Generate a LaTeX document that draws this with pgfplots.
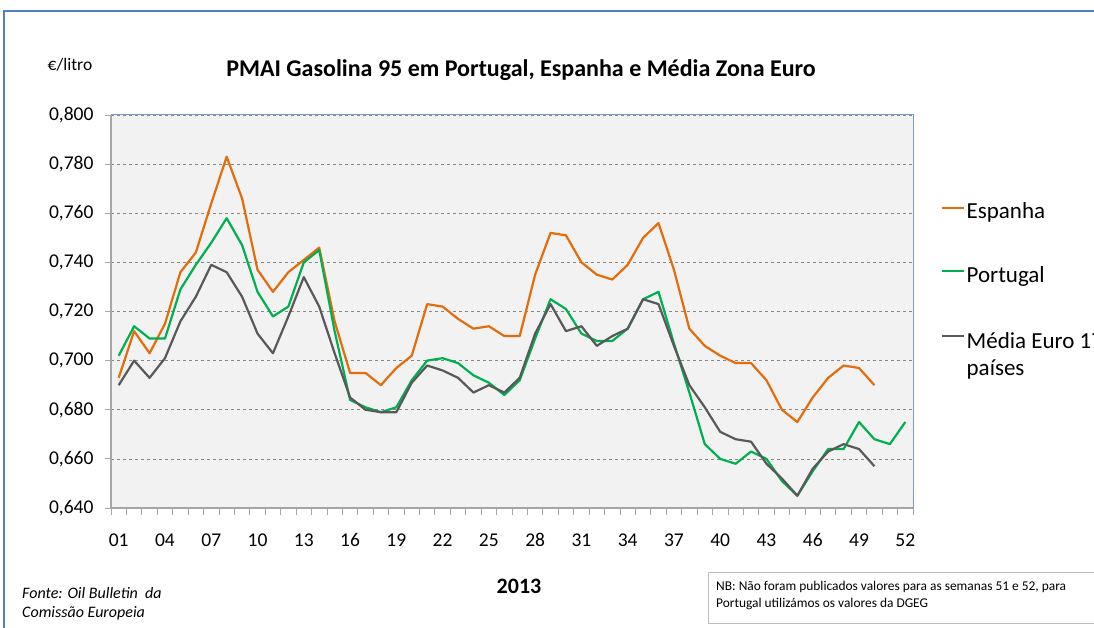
\documentclass[border=0pt]{standalone}
\usepackage{fontspec}
\setmainfont{Carlito}
\usepackage{pgfplots}
\pgfplotsset{compat=1.18}
\definecolor{esp}{RGB}{228,108,10}
\definecolor{por}{RGB}{0,176,80}
\definecolor{eur}{RGB}{89,89,89}
\definecolor{bgc}{RGB}{242,242,242}
\definecolor{frameblue}{RGB}{79,129,189}
\definecolor{topblue}{RGB}{120,155,210}
\definecolor{axgray}{RGB}{166,166,166}
\definecolor{gridgray}{RGB}{134,134,134}
\begin{document}
\begin{tikzpicture}[x=1pt,y=1pt]
\useasboundingbox (0,0) rectangle (1094,628);
\draw[frameblue, line width=1.5pt] (4,-5) -- (4,617) -- (1100,617);
\node[font=\fontsize{24}{24}\selectfont\bfseries] at (521,558) {PMAI Gasolina 95 em Portugal, Espanha e Média Zona Euro};
\node[font=\fontsize{17.5}{17.5}\selectfont] at (70,563) {€/litro};
\begin{axis}[
  at={(111pt,120pt)}, anchor=south west,
  width=802pt, height=393pt, scale only axis,
  xmin=0.5, xmax=52.5, ymin=0.64, ymax=0.80,
  axis background/.style={fill=bgc},
  axis line style={draw=none},
  xtick={1,4,...,52},
  xticklabels={01,04,07,10,13,16,19,22,25,28,31,34,37,40,43,46,49,52},
  minor xtick={0.5,1.5,...,52.5},
  ytick={0.64,0.66,...,0.801},
  tick pos=left, tick align=outside,
  major x tick style={draw=none},
  minor x tick style={axgray, line width=0.8pt},
  minor tick length=7pt,
  major tick length=6pt,
  y tick style={axgray, line width=0.8pt},
  ymajorgrids, grid style={gridgray, dashed, line width=0.6pt},
  x tick label style={font=\fontsize{19.5}{19.5}\selectfont, anchor=base, yshift=-33pt},
  y tick label style={font=\fontsize{19.5}{19.5}\selectfont, xshift=-8pt},
  yticklabel style={/pgf/number format/.cd, fixed, fixed zerofill, precision=3, use comma, assume math mode=true},
  legend style={draw=none, fill=none, at={(1.034,0.782)}, anchor=north west,
    font=\fontsize{23}{27}\selectfont, row sep=42pt, inner sep=0pt},
  legend cell align=left,
  legend image code/.code={\draw[#1] (0pt,0.8ex) -- (22pt,0.8ex);},
  every axis plot/.append style={line width=2.2pt, line join=round},
  clip=false,
]
\addplot[esp] coordinates {
(1,0.693)(2,0.712)(3,0.703)(4,0.715)(5,0.736)(6,0.744)(7,0.764)(8,0.783)(9,0.766)(10,0.737)
(11,0.728)(12,0.736)(13,0.741)(14,0.746)(15,0.716)(16,0.695)(17,0.695)(18,0.690)(19,0.697)(20,0.702)
(21,0.723)(22,0.722)(23,0.717)(24,0.713)(25,0.714)(26,0.710)(27,0.710)(28,0.735)(29,0.752)(30,0.751)
(31,0.740)(32,0.735)(33,0.733)(34,0.739)(35,0.750)(36,0.756)(37,0.737)(38,0.713)(39,0.706)(40,0.702)
(41,0.699)(42,0.699)(43,0.692)(44,0.680)(45,0.675)(46,0.685)(47,0.693)(48,0.698)(49,0.697)(50,0.690)};
\addlegendentry{Espanha}
\addplot[por] coordinates {
(1,0.702)(2,0.714)(3,0.709)(4,0.709)(5,0.729)(6,0.739)(7,0.748)(8,0.758)(9,0.747)(10,0.728)
(11,0.718)(12,0.722)(13,0.740)(14,0.745)(15,0.712)(16,0.684)(17,0.681)(18,0.679)(19,0.681)(20,0.692)
(21,0.700)(22,0.701)(23,0.699)(24,0.694)(25,0.691)(26,0.686)(27,0.692)(28,0.709)(29,0.725)(30,0.721)
(31,0.711)(32,0.708)(33,0.708)(34,0.713)(35,0.725)(36,0.728)(37,0.707)(38,0.687)(39,0.666)(40,0.660)
(41,0.658)(42,0.663)(43,0.660)(44,0.651)(45,0.645)(46,0.655)(47,0.664)(48,0.664)(49,0.675)(50,0.668)
(51,0.666)(52,0.675)};
\addlegendentry{Portugal}
\addplot[eur] coordinates {
(1,0.690)(2,0.700)(3,0.693)(4,0.701)(5,0.716)(6,0.726)(7,0.739)(8,0.736)(9,0.726)(10,0.711)
(11,0.703)(12,0.718)(13,0.734)(14,0.722)(15,0.703)(16,0.685)(17,0.680)(18,0.679)(19,0.679)(20,0.691)
(21,0.698)(22,0.696)(23,0.693)(24,0.687)(25,0.690)(26,0.687)(27,0.693)(28,0.711)(29,0.723)(30,0.712)
(31,0.714)(32,0.706)(33,0.710)(34,0.713)(35,0.725)(36,0.723)(37,0.706)(38,0.690)(39,0.681)(40,0.671)
(41,0.668)(42,0.667)(43,0.658)(44,0.652)(45,0.645)(46,0.656)(47,0.663)(48,0.666)(49,0.664)(50,0.657)};
\addlegendentry{\begin{tabular}[t]{@{}l@{}}Média Euro 17\\[0pt]países\end{tabular}}
\draw[topblue, line width=1pt] (rel axis cs:0,1) -- (rel axis cs:1,1) -- (rel axis cs:1,0);
\draw[axgray, line width=1.5pt] (rel axis cs:0,1) -- (rel axis cs:0,0) -- (rel axis cs:1,0);
\end{axis}
\node[font=\fontsize{22}{22}\selectfont\bfseries] at (519,42) {2013};
\node[anchor=west, font=\fontsize{16}{16}\selectfont\itshape, inner sep=0pt] at (22,35) {Fonte: Oil Bulletin\ \ da};
\node[anchor=west, font=\fontsize{16}{16}\selectfont\itshape, inner sep=0pt] at (22,15) {Comissão Europeia};
\draw[gray!50, line width=0.8pt] (708,5) rectangle (1110,56);
\node[anchor=west, font=\fontsize{13.4}{13.4}\selectfont, inner sep=0pt] at (716,41) {NB: Não foram publicados valores para as semanas 51 e 52, para};
\node[anchor=west, font=\fontsize{13.4}{13.4}\selectfont, inner sep=0pt] at (716,24) {Portugal utilizámos os valores da DGEG};
\end{tikzpicture}
\end{document}
